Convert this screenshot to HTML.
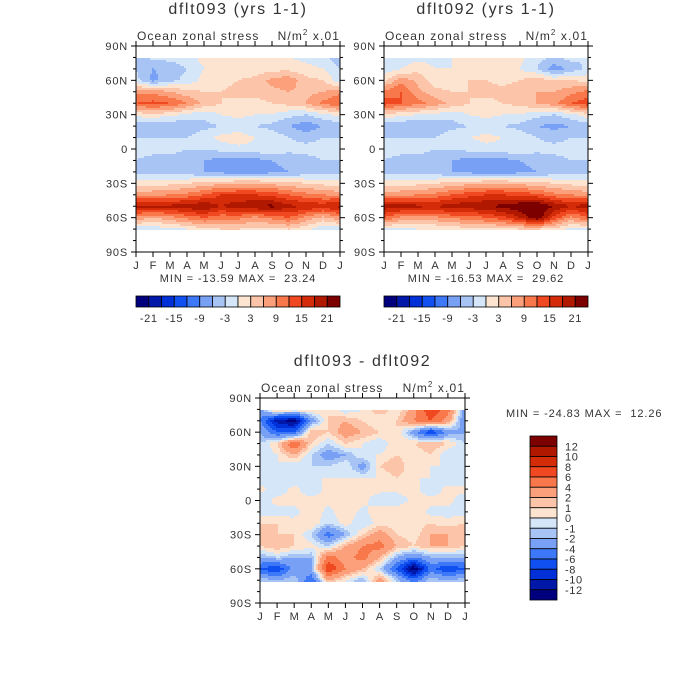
<!DOCTYPE html>
<html><head><meta charset="utf-8"><style>
body{margin:0;background:#fff;width:700px;height:700px;position:relative;overflow:hidden;font-family:"Liberation Sans",sans-serif}
canvas{position:absolute;image-rendering:pixelated}
svg{position:absolute;left:0;top:0}
text{fill:#333;font-family:"Liberation Sans",sans-serif;white-space:pre}
</style></head><body>
<canvas id="c1" width="204" height="206" style="left:136px;top:46px"></canvas>
<canvas id="c2" width="204" height="206" style="left:384px;top:46px"></canvas>
<canvas id="c3" width="205" height="205" style="left:260px;top:398px"></canvas>
<svg id="s" width="700" height="700"></svg>
<script>
const months=["J","F","M","A","M","J","J","A","S","O","N","D","J"];
const lats=[80,70,60,50,40,30,20,10,0,-10,-20,-30,-40,-50,-60,-70];
const latTicks=["90N","60N","30N","0","30S","60S","90S"];
const palette=["#00007f","#0018a8","#0030d8","#1050f0","#3c78f8","#78a0f4","#a8c4f4","#d4e6f8","#fde4d0","#fcc4a8","#fca07c","#f8784c","#f04820","#d42c08","#b01800","#7c0000"];
const levels1=[-21,-18,-15,-12,-9,-6,-3,0,3,6,9,12,15,18,21];
const levels3=[-12,-10,-8,-6,-4,-2,-1,0,1,2,4,6,8,10,12];
const cbLabels1=["-21","-15","-9","-3","3","9","15","21"];
const cbLabels3=["12","10","8","6","4","2","1","0","-1","-2","-4","-6","-8","-10","-12"];
const data1=[
[-5,-2,-2,-1,1,1,0,1,1,0,-1,-2,-5],
[-3,-6,-5,-3,0,1,1,1,2,2,1,0,-3],
[-2,-7,-4,-2,1,2,3,4,7,8,4,3,-2],
[8,8,6,4,3,3,4,4,5,6,5,6,8],
[12,13,12,9,5,3,2,2,3,4,6,10,12],
[1,2,1,-1,-2,0,1,0,0,-2,-3,-1,1],
[-5,-6,-6,-5,-4,-3,-2,-3,-4,-6,-8,-6,-5],
[-3,-3,-3,-3,-1,1,2,0,-1,-3,-4,-3,-3],
[-2,-2,-2,-3,-3,-2,-1,-1,-1,-2,-2,-2,-2],
[-3,-4,-4,-5,-6,-7,-7,-7,-6,-5,-4,-3,-3],
[-4,-4,-4,-5,-6,-7,-8,-8,-7,-6,-5,-4,-4],
[1,2,2,3,4,5,6,6,5,4,3,2,1],
[8,8,9,10,12,15,15,15,14,12,10,9,8],
[19,19,19,20,21,18,20,21,22,19,18,17,19],
[8,6,8,10,12,10,10,8,10,12,8,5,8],
[-2,-2,-1,0,2,3,3,2,2,3,1,-2,-2]];
const data2=[
[-3,-2,-1,-1,0,1,1,1,1,-2,-3,-2,-3],
[-2,0,2,0,0,1,1,1,0,-3,-8,-5,-2],
[2,8,5,1,1,3,3,2,3,5,3,3,2],
[10,12,7,4,3,3,4,4,5,6,6,8,10],
[14,12,10,8,5,3,2,3,4,6,8,12,14],
[2,1,0,-1,-2,0,1,0,0,-2,-3,-1,2],
[-5,-6,-6,-5,-4,-3,-2,-3,-4,-6,-7,-6,-5],
[-3,-3,-3,-3,-1,0,1,0,-1,-3,-4,-3,-3],
[-2,-2,-2,-3,-3,-2,-1,-1,-1,-2,-2,-2,-2],
[-3,-4,-4,-5,-6,-7,-7,-7,-6,-5,-4,-3,-3],
[-4,-4,-4,-5,-6,-7,-8,-8,-7,-6,-5,-4,-4],
[1,2,2,3,4,5,6,6,5,4,3,2,1],
[8,8,9,10,12,14,15,15,14,13,10,9,8],
[20,20,19,18,20,20,21,22,24,25,21,18,20],
[12,8,8,8,10,10,12,14,18,24,14,8,12],
[-1,-1,0,0,1,2,2,2,3,3,2,-1,-1]];
const data3=[
[-3,3,2,1,1,-1,0,2,0,3,8,5,-3],
[-4,-11,-13,-3,1,2,1,0,1,4,6,3,-4],
[-2,-6,-6,2,1,3,2,1,1,-3,-8,-3,-2],
[-1,1,6,1,-1,1,0,-1,1,1,2,1,-1],
[-1,0,2,-1,-3,-2,0,0,1,0,1,-1,-1],
[0,0,-1,-1,-1,0,-3,1,2,0,0,0,0],
[-1,-1,-1,0,0,0,0,0,1,0,0,-1,-1],
[0.5,-1,0.5,-1,0.5,1,0.5,0.5,0.5,0.5,-1,0.5,0.5],
[-1,0.5,0.5,0.5,0.5,1,0.5,-1,-1,0.5,0.5,0.5,-1],
[-0.5,-0.5,-0.5,1,-0.5,1,-0.5,1,1,1,-0.5,-0.5,-0.5],
[1,1,0.5,1,-1,0.5,-1,0.5,0.5,0.5,1,0.5,1],
[2,1,1,-1,-5,-2,1,3,1,0.5,2,2,2],
[1,2,1,0.5,-1,2,4,5,2,1,2,2,1],
[-2,-1,-2,-2,5,3,5,2,-2,-4,-2,-2,-2],
[-6,-8,-3,-2,8,4,2,-1,-6,-14,-5,-8,-6],
[-1,-2,-1,-6,2,0,-2,3,-1,-5,-1,-2,-1]];

function colorOf(v,lv){let i=0;while(i<lv.length&&v>=lv[i])i++;return palette[i];}
function drawHeat(id,data,lv){
  const c=document.getElementById(id),ctx=c.getContext('2d'),W=c.width,H=c.height;
  for(let py=0;py<H;py+=2){
    const lat=90-(py+1)/H*180;
    if(lat>80||lat<-71)continue;
    let r=(lats[0]-lat)/10; let r0=Math.min(Math.floor(r),lats.length-2); let fr=Math.min(r-r0,1);
    for(let px=0;px<W;px+=2){
      const m=(px+1)/W*12; let m0=Math.min(Math.floor(m),11); const fm=m-m0;
      const v=(data[r0][m0]*(1-fm)+data[r0][m0+1]*fm)*(1-fr)+(data[r0+1][m0]*(1-fm)+data[r0+1][m0+1]*fm)*fr;
      ctx.fillStyle=colorOf(v,lv);ctx.fillRect(px,py,2,2);
    }
  }
}
drawHeat('c1',data1,levels1);drawHeat('c2',data2,levels1);drawHeat('c3',data3,levels3);

const s=document.getElementById('s');const NS="http://www.w3.org/2000/svg";
function el(t,a,txt){const e=document.createElementNS(NS,t);for(const k in a)e.setAttribute(k,a[k]);if(txt!==undefined)e.textContent=txt;s.appendChild(e);return e;}
function panel(x,y,w,h,title,name,minmax){
  const t=el('text',{x:x+w/2,y:y-32,'font-size':16,'letter-spacing':1.6,'text-anchor':'middle'},title);
  
  const st=el('text',{x:x+1,y:y-6,'font-size':12,'letter-spacing':1.1},'Ocean zonal stress');
  
  const un=el('text',{x:x+w,y:y-6,'font-size':12,'letter-spacing':1.1,'text-anchor':'end'});
  un.innerHTML='N/m<tspan dy="-5" font-size="8">2</tspan><tspan dy="5"> x.01</tspan>';
  
  const fr=el('rect',{x:x,y:y,width:w,height:h,fill:'none',stroke:'#000','stroke-width':1});
  
  for(let lat=90;lat>=-90;lat-=10){
    const yy=y+(90-lat)/180*h, maj=lat%30===0;
    el('line',{x1:x-(maj?5:3),x2:x,y1:yy,y2:yy,stroke:'#000'});
    el('line',{x1:x+w,x2:x+w+(maj?5:3),y1:yy,y2:yy,stroke:'#000'});
    if(maj){const lb=el('text',{x:x-8,y:yy+4,'font-size':11,'letter-spacing':0.8,'text-anchor':'end'},latTicks[(90-lat)/30]);
      }
  }
  months.forEach((m,i)=>{const xx=x+i/12*w;
    el('line',{x1:xx,x2:xx,y1:y+h,y2:y+h+5,stroke:'#000'});
    el('line',{x1:xx,x2:xx,y1:y-5,y2:y,stroke:'#000'});
    const lb=el('text',{x:xx,y:y+h+17,'font-size':11,'text-anchor':'middle'},m);
    });
  if(minmax){const mm=el('text',{x:x+w/2,y:y+h+30,'font-size':11,'letter-spacing':0.9,'text-anchor':'middle'},minmax);
    }
}
panel(136,46,204,206,'dflt093 (yrs 1-1)','panel-dflt093','MIN = -13.59 MAX =  23.24');
panel(384,46,204,206,'dflt092 (yrs 1-1)','panel-dflt092','MIN = -16.53 MAX =  29.62');
panel(260,398,205,205,'dflt093 - dflt092','panel-difference',null);
const mm3=el('text',{x:506,y:417,'font-size':11,'letter-spacing':0.9},'MIN = -24.83 MAX =  12.26');


function hbar(x,y,w,h,name){
  const bw=w/16;
  palette.forEach((c,i)=>{const r=el('rect',{x:x+i*bw,y:y,width:bw,height:h,fill:c,stroke:'#000','stroke-width':0.8});
    });
  cbLabels1.forEach((l,i)=>{const t=el('text',{x:x+(1+2*i)*bw,y:y+h+15,'font-size':11,'letter-spacing':0.6,'text-anchor':'middle'},l);
    });
}
hbar(136,296,204,11,'colorbar-dflt093');
hbar(384,296,204,11,'colorbar-dflt092');
(function(){const x=530,y=436,w=27,h=164,bh=h/16;
  for(let i=0;i<16;i++){const r=el('rect',{x:x,y:y+i*bh,width:w,height:bh,fill:palette[15-i],stroke:'#000','stroke-width':0.8});
    }
  cbLabels3.forEach((l,i)=>{const t=el('text',{x:x+w+8,y:y+(i+1)*bh+4,'font-size':11,'letter-spacing':0.6},l);
    });
})();
</script>
</body></html>
